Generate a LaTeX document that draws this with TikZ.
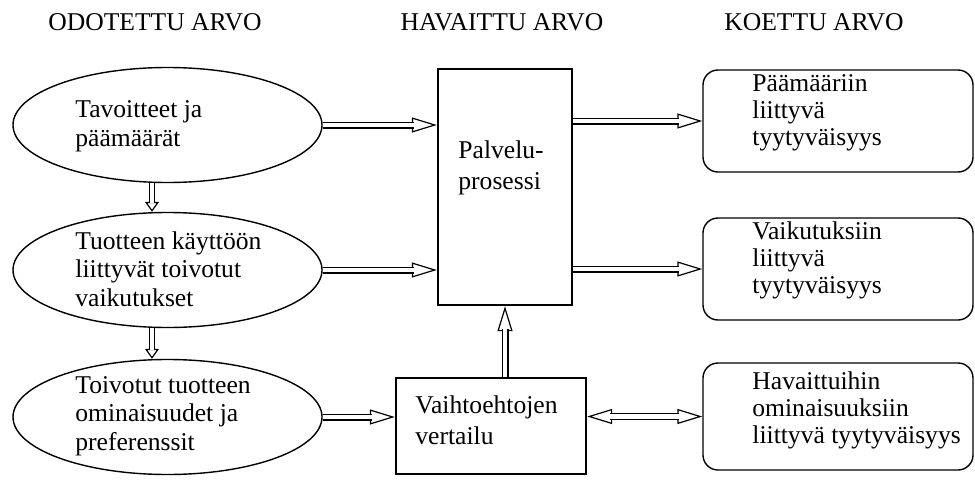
\documentclass[tikz,border=0pt]{standalone}
\usepackage{fontspec}
\setmainfont{Liberation Serif}
\usetikzlibrary{positioning, arrows.meta, shapes.geometric}
\tikzset{
  every node/.style={font=\fontsize{12.8}{13.5}\selectfont},
  goal/.style={ellipse, draw, line width=0.7pt, minimum width=154.5pt, minimum height=57.5pt, inner sep=0pt},
  process/.style={rectangle, draw, line width=1.2pt, inner sep=0pt},
  outcome/.style={rectangle, rounded corners=7.5pt, draw, line width=0.7pt, minimum width=135pt, minimum height=51pt, inner sep=0pt},
  txt/.style={align=left, inner sep=0pt, anchor=west},
  goaltxt/.style={txt, font=\fontsize{12.8}{14.3}\selectfont},
  widetxt/.style={txt, font=\fontsize{12.8}{15.3}\selectfont},
  head/.style={inner sep=0pt},
  flow/.style={line width=0.6pt, -{Triangle[length=12.5pt, width=7.5pt, fill=white]},
    postaction={draw, -, double=white, double distance=2.3pt, shorten >=11.5pt}},
  both/.style={line width=0.6pt, {Triangle[length=12.5pt, width=7.5pt, fill=white]}-{Triangle[length=12.5pt, width=7.5pt, fill=white]},
    postaction={draw, -, double=white, double distance=2.3pt, shorten >=11.5pt, shorten <=11.5pt}},
  down/.style={line width=0.6pt, -{Triangle[length=5pt, width=7pt, fill=white]},
    postaction={draw, -, double=white, double distance=2pt, shorten >=4.2pt}},
}

\begin{document}
\begin{tikzpicture}[x=0.5pt, y=-0.5pt]
  \useasboundingbox (0,0) rectangle (975,482);

  % column headings
  \node[head] (h1) at (155,22) {ODOTETTU ARVO};
  \node[head] (h2) at (502,22) {HAVAITTU ARVO};
  \node[head] (h3) at (814,22) {KOETTU ARVO};

  % expected value
  \node[goal] (e1) at (167.5,125) {};
  \node[goal] (e2) at (167.5,270) {};
  \node[goal] (e3) at (167.5,417) {};
  \node[goaltxt] (t1) at (75,126) {Tavoitteet ja\\päämäärät};
  \node[goaltxt] (t2) at (75,269) {Tuotteen käyttöön\\liittyvät toivotut\\vaikutukset};
  \node[goaltxt] (t3) at (75,416) {Toivotut tuotteen\\ominaisuudet ja\\preferenssit};

  % perceived value
  \node[process, minimum width=67pt, minimum height=118pt] (pp) at (505,187) {};
  \node[widetxt] (tp) at (458,168) {Palvelu-\\prosessi};
  \node[process, minimum width=95pt, minimum height=48pt] (vv) at (491,426) {};
  \node[widetxt] (tv) at (415,420) {Vaihtoehtojen\\vertailu};

  % experienced value
  \node[outcome] (r1) at (838,121) {};
  \node[outcome] (r2) at (838,269) {};
  \node[outcome, minimum height=53.5pt] (r3) at (838,416.5) {};
  \node[txt] (s1) at (752,113) {Päämääriin\\liittyvä\\tyytyväisyys};
  \node[txt] (s2) at (752,260) {Vaikutuksiin\\liittyvä\\tyytyväisyys};
  \node[txt] (s3) at (752,410) {Havaittuihin\\ominaisuuksiin\\liittyvä tyytyväisyys};

  \draw[down] ([xshift=-7.75pt]e1.south) -- ([xshift=-7.75pt]e2.north);
  \draw[down] ([xshift=-7.75pt]e2.south) -- ([xshift=-7.75pt]e3.north);
  \draw[flow] (e1.east) -- (e1.east -| pp.west);
  \draw[flow] (e2.east) -- (e2.east -| pp.west);
  \draw[flow] (e3.east) -- (e3.east -| vv.west);
  \draw[flow] (pp.east |- r1.west) -- (r1.west);
  \draw[flow] (pp.east |- r2.west) -- (r2.west);
  \draw[flow] (pp.south |- vv.north) -- (pp.south);
  \draw[both] (vv.east |- r3.west) -- (r3.west);
\end{tikzpicture}
\end{document}
